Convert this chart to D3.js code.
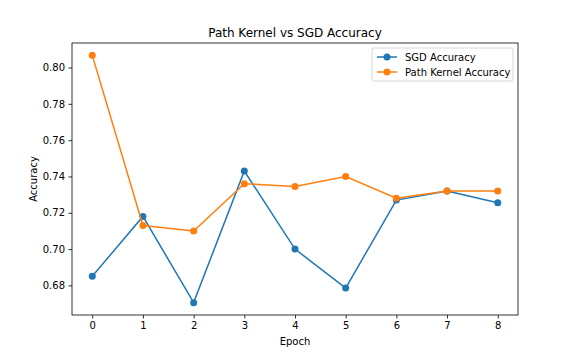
<!DOCTYPE html>
<html>
<head>
<meta charset="utf-8">
<script src="https://cdn.jsdelivr.net/npm/d3@7"></script>
<style>
  body { margin: 0; background: #fff; }
  text { font-family: "DejaVu Sans", sans-serif; fill: #000; }
</style>
</head>
<body>
<svg id="chart" width="576" height="360"></svg>
<script>
// Data
const epochs = [0, 1, 2, 3, 4, 5, 6, 7, 8];
const sgdAccuracy = [0.685, 0.718, 0.6705, 0.743, 0.700, 0.6785, 0.727, 0.732, 0.7255];
const pathKernelAccuracy = [0.8067, 0.713, 0.710, 0.736, 0.7345, 0.740, 0.728, 0.732, 0.732];
const yTicks = [0.68, 0.70, 0.72, 0.74, 0.76, 0.78, 0.80];

const series = [
  { name: "SGD Accuracy", values: sgdAccuracy, color: "#1f77b4" },
  { name: "Path Kernel Accuracy", values: pathKernelAccuracy, color: "#ff7f0e" }
];

const margin = { top: 43, right: 58, bottom: 45, left: 72 };
const width = 576 - margin.left - margin.right;
const height = 360 - margin.top - margin.bottom;

const svg = d3.select("#chart")
  .append("g")
  .attr("transform", `translate(${margin.left},${margin.top})`);

// Scales with matplotlib-like 5% padding
const allVals = sgdAccuracy.concat(pathKernelAccuracy);
const yMin = d3.min(allVals), yMax = d3.max(allVals);
const yPad = (yMax - yMin) * 0.05;
const x = d3.scaleLinear().domain([-0.4, 8.4]).range([0, width]);
const y = d3.scaleLinear().domain([yMin - yPad, yMax + yPad]).range([height, 0]);

// Axes
const xAxis = svg.append("g")
  .attr("transform", `translate(0,${height})`)
  .call(d3.axisBottom(x).tickValues(epochs).tickFormat(d3.format("d")).tickSizeOuter(0).tickSize(3.5).tickPadding(3.5));
const yAxis = svg.append("g")
  .call(d3.axisLeft(y).tickValues(yTicks).tickFormat(d3.format(".2f")).tickSizeOuter(0).tickSize(3.5).tickPadding(3.5));
[xAxis, yAxis].forEach(a => {
  a.selectAll("text").style("font-size", "10px").style("font-family", "DejaVu Sans, sans-serif").attr("fill", "#000");
  a.selectAll("line").attr("stroke", "#000").attr("stroke-width", 0.8);
  a.select(".domain").remove();
});

// Frame
svg.append("rect")
  .attr("width", width).attr("height", height)
  .attr("fill", "none").attr("stroke", "#000").attr("stroke-width", 0.8);

// Lines and markers
const line = d3.line().x((d, i) => x(epochs[i])).y(d => y(d));
series.forEach(s => {
  svg.append("path")
    .datum(s.values)
    .attr("d", line)
    .attr("fill", "none")
    .attr("stroke", s.color)
    .attr("stroke-width", 1.5);
  svg.selectAll(null)
    .data(s.values)
    .enter()
    .append("circle")
    .attr("cx", (d, i) => x(epochs[i]))
    .attr("cy", d => y(d))
    .attr("r", 3.5)
    .attr("fill", s.color);
});

// Title and labels
svg.append("text")
  .attr("x", width / 2).attr("y", -6)
  .attr("text-anchor", "middle").style("font-size", "12px")
  .text("Path Kernel vs SGD Accuracy");
svg.append("text")
  .attr("x", width / 2).attr("y", height + 30)
  .attr("text-anchor", "middle").style("font-size", "10px")
  .text("Epoch");
svg.append("text")
  .attr("transform", `translate(-35,${height / 2}) rotate(-90)`)
  .attr("text-anchor", "middle").style("font-size", "10px")
  .text("Accuracy");

// Legend
const legend = svg.append("g").attr("transform", `translate(${width - 146},5)`);
legend.append("rect")
  .attr("width", 141).attr("height", 33).attr("rx", 2)
  .attr("fill", "#fff").attr("fill-opacity", 0.8)
  .attr("stroke", "#ccc").attr("stroke-width", 0.8);
series.forEach((s, i) => {
  const g = legend.append("g").attr("transform", `translate(0,${9 + i * 15})`);
  g.append("line").attr("x1", 5).attr("x2", 25).attr("y1", 0).attr("y2", 0)
    .attr("stroke", s.color).attr("stroke-width", 1.5);
  g.append("circle").attr("cx", 15).attr("cy", 0).attr("r", 3.5).attr("fill", s.color);
  g.append("text").attr("x", 33).attr("y", 3.5).style("font-size", "10px").text(s.name);
});
</script>
</body>
</html>
